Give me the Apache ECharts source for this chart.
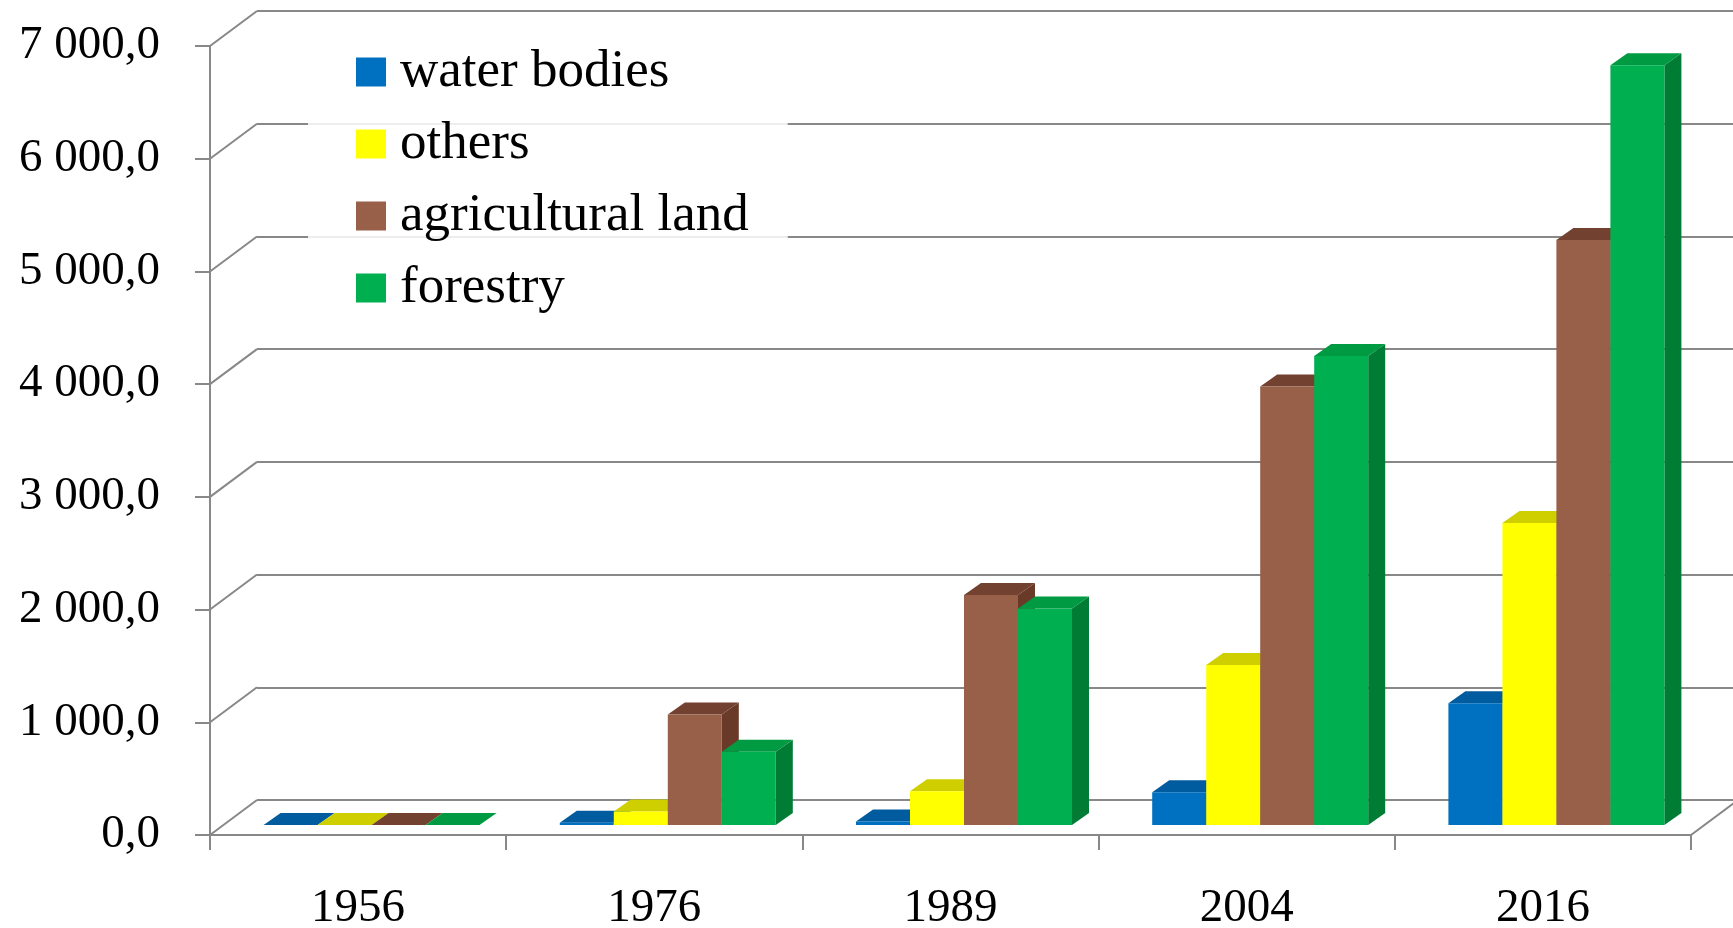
<!DOCTYPE html>
<html>
<head>
<meta charset="utf-8">
<script src="https://cdn.jsdelivr.net/npm/echarts@6/dist/echarts.min.js"></script>
<style>
html,body{margin:0;padding:0;background:#fff;}
#chart{width:1733px;height:928px;}
</style>
</head>
<body>
<div id="chart"></div>
<script>
// ---- data ----
const categories = ['1956', '1976', '1989', '2004', '2016'];
const seriesNames = ['water bodies', 'others', 'agricultural land', 'forestry'];
const waterBodies = [0, 20, 30, 290, 1080];
const others = [0, 120, 300, 1420, 2680];
const agriculturalLand = [0, 980, 2040, 3890, 5190];
const forestry = [0, 650, 1920, 4160, 6740];
const yTickValues = [0, 1000, 2000, 3000, 4000, 5000, 6000, 7000];
const yTickLabels = ['0,0', '1 000,0', '2 000,0', '3 000,0', '4 000,0', '5 000,0', '6 000,0', '7 000,0'];

// ---- styling ----
const FONT = '"Liberation Serif", "DejaVu Serif", serif';
const GRID_COLOR = '#888888';
const faces = [
  { front: '#0070C0', top: '#005C9E', side: '#004F88' },
  { front: '#FFFF00', top: '#CFCF00', side: '#BDBD00' },
  { front: '#985F49', top: '#73412F', side: '#6A3A29' },
  { front: '#00B050', top: '#009A42', side: '#007C35' }
];
const BAR_W = 54, SHIFT_X = 13.5, SHIFT_Y = -10, DEP_X = 17, DEP_Y = -12;
const WALL_X = 47, WALL_Y = -35;
const allSeries = [waterBodies, others, agriculturalLand, forestry];

function barRenderer(si) {
  return function (params, api) {
    const i = api.value(0), v = api.value(1);
    const base = api.coord([i, 0]);
    const top = api.coord([i, v]);
    const x0 = base[0] - 2 * BAR_W + si * BAR_W + SHIFT_X;
    const yb = base[1] + SHIFT_Y;
    const yt = top[1] + SHIFT_Y;
    const f = faces[si];
    return {
      type: 'group',
      children: [
        { type: 'polygon', shape: { points: [[x0 + BAR_W, yt], [x0 + BAR_W + DEP_X, yt + DEP_Y], [x0 + BAR_W + DEP_X, yb + DEP_Y], [x0 + BAR_W, yb]] }, style: { fill: f.side } },
        { type: 'polygon', shape: { points: [[x0, yt], [x0 + DEP_X, yt + DEP_Y], [x0 + BAR_W + DEP_X, yt + DEP_Y], [x0 + BAR_W, yt]] }, style: { fill: f.top } },
        { type: 'rect', shape: { x: x0, y: yt, width: BAR_W, height: Math.max(yb - yt, 0) }, style: { fill: f.front } }
      ]
    };
  };
}

function frameRenderer(params, api) {
  const cs = params.coordSys;
  const children = [];
  yTickValues.forEach(function (v) {
    const p = api.coord([0, v]);
    children.push({ type: 'line', shape: { x1: cs.x, y1: p[1], x2: cs.x + WALL_X, y2: p[1] + WALL_Y }, style: { stroke: GRID_COLOR, lineWidth: 2 } });
  });
  const b = api.coord([0, 0]);
  children.push({ type: 'line', shape: { x1: cs.x + cs.width, y1: b[1], x2: cs.x + cs.width + WALL_X, y2: b[1] + WALL_Y }, style: { stroke: GRID_COLOR, lineWidth: 2 } });
  return { type: 'group', children: children };
}

const series = [{
  type: 'custom', name: '_frame', xAxisIndex: 0, yAxisIndex: 0, silent: true, z: 1,
  data: [[0, 0]], renderItem: frameRenderer, clip: false
}];
seriesNames.forEach(function (name, si) {
  series.push({
    type: 'custom', name: name, xAxisIndex: 0, yAxisIndex: 0, z: 3 + si, clip: false,
    itemStyle: { color: faces[si].front },
    encode: { x: 0, y: 1 },
    data: categories.map(function (c, i) { return [i, allSeries[si][i]]; }),
    renderItem: barRenderer(si)
  });
});

const chart = echarts.init(document.getElementById('chart'), null, { renderer: 'canvas' });
chart.setOption({
  animation: false,
  backgroundColor: '#ffffff',
  grid: [
    { left: 210, right: 42, top: 46, bottom: 93, containLabel: false, outerBoundsMode: 'none' },
    { left: 257, right: -5, top: 11, bottom: 128, containLabel: false, outerBoundsMode: 'none' }
  ],
  xAxis: [
    {
      type: 'category', gridIndex: 0, data: categories,
      axisLine: { lineStyle: { color: GRID_COLOR, width: 2 } },
      axisTick: { show: true, length: 15, lineStyle: { color: GRID_COLOR, width: 2 } },
      axisLabel: { fontFamily: FONT, fontSize: 47, color: '#000', margin: 50 }
    },
    { type: 'category', gridIndex: 1, data: categories, show: false }
  ],
  yAxis: [
    {
      type: 'value', gridIndex: 0, min: 0, max: 7000, interval: 1000,
      axisLine: { show: true, lineStyle: { color: GRID_COLOR, width: 2 } },
      axisTick: { show: true, length: 15, lineStyle: { color: GRID_COLOR, width: 2 } },
      splitLine: { show: false },
      axisLabel: {
        fontFamily: FONT, fontSize: 47, color: '#000', margin: 50,
        formatter: function (v) { const k = yTickValues.indexOf(v); return k >= 0 ? yTickLabels[k] : ''; }
      }
    },
    {
      type: 'value', gridIndex: 1, min: 0, max: 7000, interval: 1000,
      axisLine: { show: false }, axisTick: { show: false }, axisLabel: { show: false },
      splitLine: { show: true, lineStyle: { color: GRID_COLOR, width: 2 } }
    }
  ],
  legend: {
    orient: 'vertical', left: 308, top: 30,
    padding: [14, 39, 14, 48],
    itemWidth: 30, itemHeight: 29, itemGap: 16,
    backgroundColor: 'rgba(255,255,255,0.85)',
    textStyle: { fontFamily: FONT, fontSize: 53, color: '#000', lineHeight: 56, padding: [0, 0, 0, 9] },
    data: seriesNames.map(function (n, si) { return { name: n, icon: 'rect', itemStyle: { color: faces[si].front } }; })
  },
  series: series
});
</script>
</body>
</html>
